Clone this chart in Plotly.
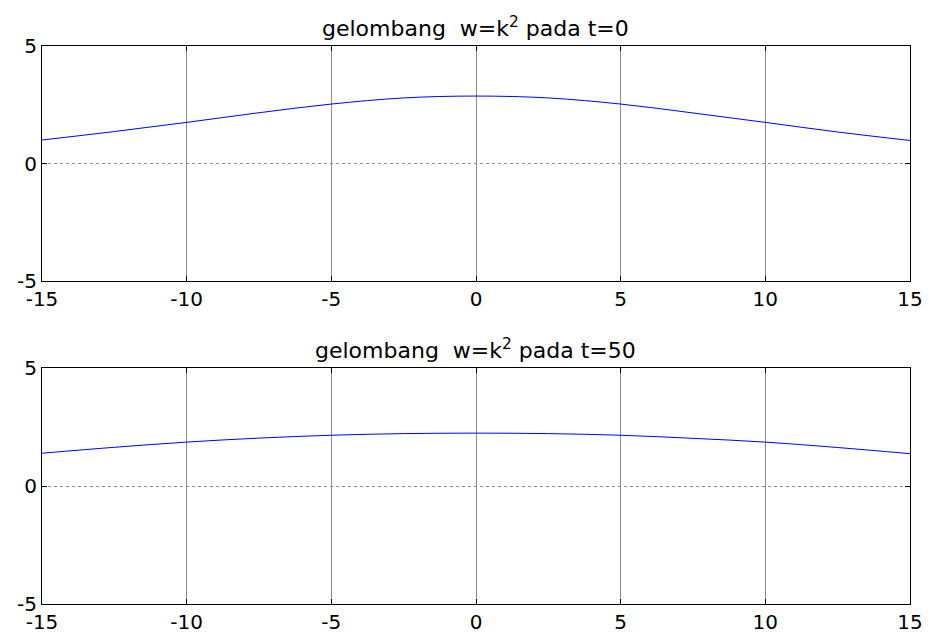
import plotly.graph_objects as go

# k values (x axis)
k = [-15, -12.5, -10, -7.5, -5, -2.5, 0, 2.5, 5, 7.5, 10, 12.5, 15]
# wave amplitude at t=0
y_t0 = [1.00, 1.36, 1.75, 2.16, 2.53, 2.79, 2.87, 2.79, 2.53, 2.15, 1.75, 1.34, 0.98]
# wave amplitude at t=50
y_t50 = [1.39, 1.64, 1.86, 2.03, 2.15, 2.22, 2.24, 2.22, 2.15, 2.02, 1.86, 1.63, 1.37]

titles = ["gelombang \u00a0w=k<sup>2</sup> pada t=0",
          "gelombang \u00a0w=k<sup>2</sup> pada t=50"]
x_ticks = [-15, -10, -5, 0, 5, 10, 15]
y_ticks = [-5, 0, 5]

W, H = 929, 633
xdom = [42 / W, 910 / W]
ydoms = [[1 - 281 / H, 1 - 46 / H], [1 - 604 / H, 1 - 368 / H]]
title_y = [1 - 27 / H, 1 - 349 / H]

font = "DejaVu Sans"
fig = go.Figure()

for i, (ys, ttl) in enumerate(zip([y_t0, y_t50], titles)):
    xa = "x" if i == 0 else "x2"
    ya = "y" if i == 0 else "y2"
    fig.add_trace(go.Scatter(x=k, y=ys, mode="lines", line=dict(color="#0000ff", width=1, shape="spline"),
                             xaxis=xa, yaxis=ya, showlegend=False, hoverinfo="skip"))
    axx = dict(domain=xdom, range=[-15, 15], tickvals=x_ticks, ticktext=[str(v) for v in x_ticks],
               showline=True, linecolor="black", linewidth=1, mirror="ticks",
               ticks="inside", ticklen=5, tickcolor="black", automargin=False,
               showgrid=True, gridcolor="#8c8c8c", gridwidth=1, zeroline=False,
               tickfont=dict(family=font, size=20, color="black"), anchor=ya)
    axy = dict(domain=ydoms[i], range=[-5, 5], tickvals=y_ticks, ticktext=[str(v) for v in y_ticks],
               showline=True, linecolor="black", linewidth=1, mirror="ticks",
               ticks="inside", ticklen=5, tickcolor="black", automargin=False,
               showgrid=True, gridcolor="#8c8c8c", gridwidth=1, griddash="dot", zeroline=False,
               tickfont=dict(family=font, size=20, color="black"), anchor=xa)
    if i == 0:
        fig.update_layout(xaxis=axx, yaxis=axy)
    else:
        fig.update_layout(xaxis2=axx, yaxis2=axy)
    fig.add_annotation(text=ttl, x=(xdom[0] + xdom[1]) / 2, y=title_y[i], xref="paper", yref="paper",
                       xanchor="center", yanchor="middle", showarrow=False,
                       font=dict(family=font, size=22, color="black"))

fig.update_layout(width=W, height=H, margin=dict(l=0, r=0, t=0, b=0),
                  paper_bgcolor="white", plot_bgcolor="white")
fig.write_html("out.html")
